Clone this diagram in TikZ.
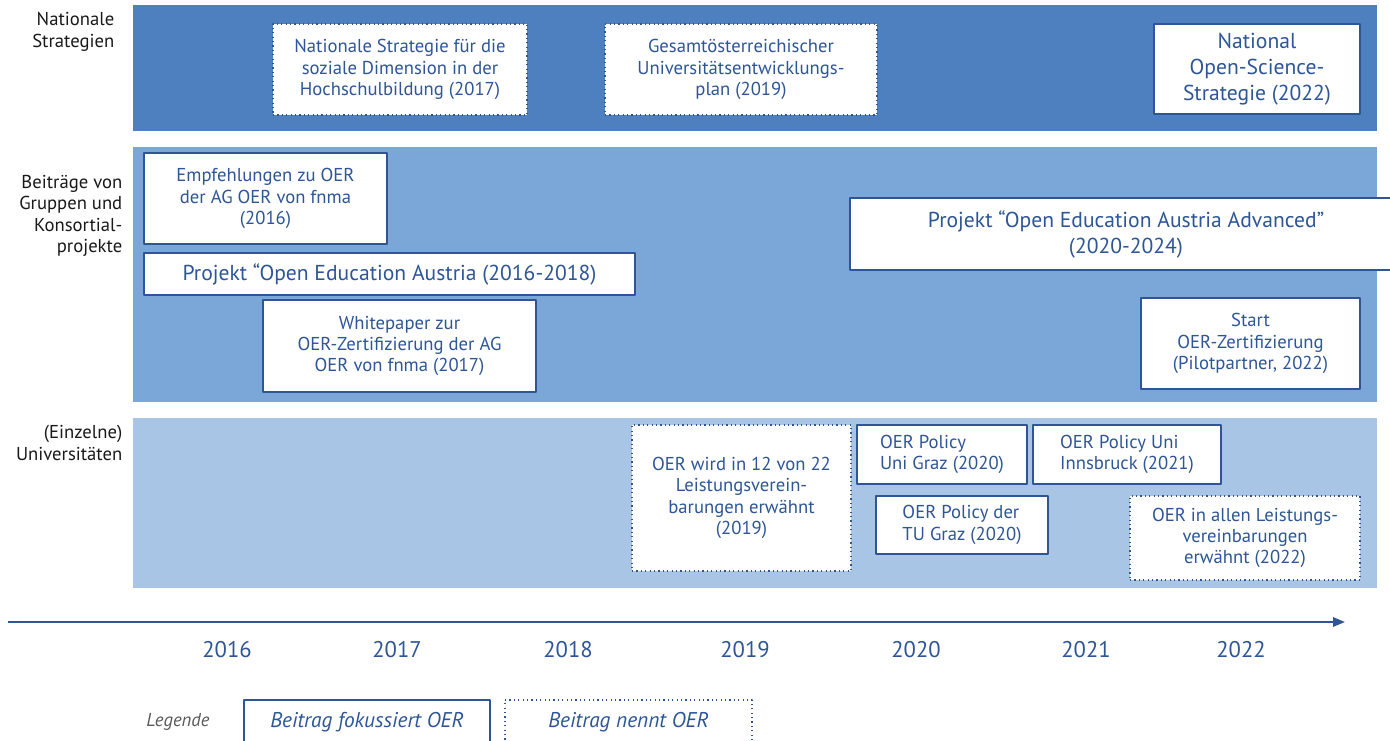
\documentclass[tikz,border=0pt]{standalone}
\usepackage{fontspec}
\setmainfont{PT Sans}
\usetikzlibrary{arrows.meta}
\definecolor{bandeins}{HTML}{4E80C0}
\definecolor{bandzwei}{HTML}{7BA6D8}
\definecolor{banddrei}{HTML}{A9C5E5}
\definecolor{rahmen}{HTML}{2F5597}
\definecolor{schrift}{HTML}{2E5696}
\begin{document}
\begin{tikzpicture}[x=0.75pt, y=-0.75pt, line join=round,
	>={Triangle[length=9pt, width=7pt]},
	fokus/.style={draw=rahmen, line width=1.2pt, fill=white, text=schrift, align=center, inner sep=2pt, font=\fontsize{14}{16}\selectfont},
	nennt/.style={fokus, line width=1.1pt, dash pattern=on 0.9pt off 2.4pt},
	gross/.style={font=\fontsize{16.2}{19.5}\selectfont},
	ebene/.style={align=right, anchor=east, text=black!90, font=\fontsize{14}{16}\selectfont},
	legende/.style={fill=white, text=schrift, font=\fontsize{16}{18}\selectfont\itshape, minimum height=33pt}]
	\useasboundingbox (0,0) rectangle (1390,741);
	\clip (0,0) rectangle (1390,741);
	% Ebenen
	\fill[bandeins] (133,5) rectangle (1377,131);
	\fill[bandzwei] (133,147) rectangle (1377,402);
	\fill[banddrei] (133,418) rectangle (1377,588);
	\node[ebene] (nat) at (119,32) {Nationale\\Strategien};
	\node[ebene] (grp) at (127,216) {Beiträge von\\Gruppen und\\Konsortial-\\projekte};
	\node[ebene] (uni) at (127,443) {(Einzelne)\\Universitäten};
	% Nationale Strategien
	\node[nennt, minimum width=190.5pt, minimum height=68.25pt] (sozial) at (400,69.5) {Nationale Strategie für die\\soziale Dimension in der\\Hochschulbildung (2017)};
	\node[nennt, minimum width=204pt, minimum height=68.25pt] (gesamt) at (741,69.5) {Gesamtösterreichischer\\Universitätsentwicklungs-\\plan (2019)};
	\node[fokus, gross, minimum width=154.5pt, minimum height=67.5pt] (openscience) at (1257,69) {National\\Open-Science-\\Strategie (2022)};
	% Gruppen und Konsortialprojekte
	\node[fokus, minimum width=182.25pt, minimum height=68.25pt] (empf) at (265.5,198.5) {Empfehlungen zu OER\\der AG OER von fnma\\(2016)};
	\node[fokus, gross, minimum width=368.25pt, minimum height=31.5pt] (oea) at (389.5,274) {Projekt “Open Education Austria (2016-2018)};
	\node[fokus, minimum width=204.75pt, minimum height=69pt] (white) at (399.5,346) {Whitepaper zur\\OER-Zertifizierung der AG\\OER von  fnma (2017)};
	\node[fokus, gross, minimum width=414pt, minimum height=54pt] (oeaa) at (1126,234) {Projekt “Open Education Austria Advanced”\\(2020-2024)};
	\node[fokus, minimum width=164.25pt, minimum height=68.25pt] (zert) at (1250.5,343.5) {Start\\OER-Zertifizierung\\(Pilotpartner, 2022)};
	% Universitaeten
	\node[nennt, minimum width=164.25pt, minimum height=109.5pt] (lv) at (741.5,498) {OER wird in 12 von 22\\Leistungsverein-\\barungen erwähnt\\(2019)};
	\node[fokus, align=left, minimum width=127.5pt, minimum height=44.25pt] (graz) at (942,454.5) {OER Policy\\Uni Graz (2020)};
	\node[fokus, align=left, minimum width=141pt, minimum height=44.25pt] (ibk) at (1127,454.5) {OER Policy Uni\\Innsbruck (2021)};
	\node[fokus, align=left, minimum width=129pt, minimum height=43.5pt] (tug) at (962,525) {OER Policy der\\TU Graz (2020)};
	\node[nennt, minimum width=172.5pt, minimum height=63pt] (alle) at (1245,538) {OER in allen Leistungs-\\vereinbarungen\\erwähnt (2022)};
	% Zeitachse
	\coordinate (anf) at (8,622);
	\coordinate (end) at (1345,622);
	\draw[->, rahmen, line width=1.5pt] (anf) -- (end);
	\foreach \jahr/\xpos in {2016/227, 2017/397, 2018/568, 2019/745, 2020/916, 2021/1086, 2022/1241}
	\node[text=schrift, font=\fontsize{17}{20}\selectfont] (j\jahr) at (\xpos,650) {\jahr};
	% Legende
	\node[text=black!65, font=\fontsize{14}{17}\selectfont\itshape] (leg) at (178,722) {Legende};
	\node[legende, draw=rahmen, line width=1.2pt, minimum width=184.5pt] (legfokus) at (367,722) {Beitrag fokussiert OER};
	\node[legende, draw=rahmen, line width=1.1pt, dash pattern=on 0.9pt off 2.4pt, minimum width=185.25pt] (legnennt) at (628.5,722) {Beitrag nennt OER};
\end{tikzpicture}
\end{document}
